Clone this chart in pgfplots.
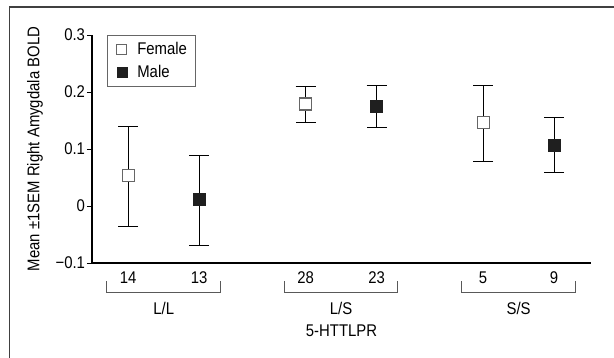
\documentclass[border=0pt]{standalone}
\usepackage{pgfplots}
\pgfplotsset{compat=1.18}
\usepackage{fontspec}
\setmainfont{Liberation Sans}[FakeStretch=0.88]
\newcommand\ff{\fontsize{17}{19}\selectfont}
\begin{document}
\begin{tikzpicture}
\useasboundingbox (0,0) rectangle (614bp,358bp);
\draw[line width=1.2bp, black!75] (9.5bp,-2bp) -- (9.5bp,351bp) -- (616bp,351bp);
\begin{axis}[
  at={(92bp,95bp)}, anchor=south west, scale only axis,
  width=499bp, height=228bp,
  xmin=0.49, xmax=7.52, ymin=-0.1, ymax=0.3,
  axis lines*=left, clip=false,
  axis line style={line width=1.1bp, black},
  xtick={1,2,3.5,4.5,6,7}, xticklabels={14,13,28,23,5,9},
  x tick style={draw=none},
  ytick={-0.1,0,0.1,0.2,0.3}, yticklabels={−0.1,0,0.1,0.2,0.3},
  y tick style={black, line width=0.9bp},
  tick align=outside, major tick length=5bp,
  tick label style={font=\ff},
  yticklabel style={xshift=1.5bp},
  xticklabel style={yshift=0bp},
  ylabel={Mean ±1SEM Right Amygdala BOLD},
  y label style={font=\ff, at={(axis description cs:-0.114,0.5)}, anchor=center},
  legend style={at={(rel axis cs:0.03,1)}, anchor=north west, draw=gray!80!black, font=\ff, line width=0.9bp,
    inner xsep=5bp, inner ysep=4bp, row sep=3.5bp, nodes={inner xsep=3bp, inner ysep=3bp}},
  legend image code/.code={\path (0bp,0bp) (21bp,0bp); \draw[#1, mark size=5bp] plot coordinates {(9bp,0bp)};},
  legend cell align=left,
  error bars/error bar style={black, line width=0.9bp},
  error bars/error mark options={black, line width=0.9bp, mark size=10bp, rotate=90},
]
\addplot[only marks, mark=square*, mark size=6bp, mark options={fill=white, draw=gray!80!black, line width=1.2bp},
  error bars/.cd, y dir=both, y explicit]
  table[x=x, y=y, y error plus=ep, y error minus=em] {
x y ep em
1 0.053 0.086 0.088
3.5 0.179 0.030 0.032
6 0.147 0.065 0.068
};
\addplot[only marks, mark=square*, mark size=6bp, mark options={fill=black!88, draw=black!88, line width=0.5bp},
  error bars/.cd, y dir=both, y explicit]
  table[x=x, y=y, y error plus=ep, y error minus=em] {
x y ep em
2 0.011 0.078 0.081
4.5 0.175 0.036 0.037
7 0.107 0.048 0.048
};
\legend{Female, Male}
\draw[gray!70!black, line width=0.9bp] ([yshift=-18bp]axis cs:0.7,-0.1) -- ([yshift=-29bp]axis cs:0.7,-0.1) -- ([yshift=-29bp]axis cs:2.3,-0.1) -- ([yshift=-18bp]axis cs:2.3,-0.1);
\draw[gray!70!black, line width=0.9bp] ([yshift=-18bp]axis cs:3.2,-0.1) -- ([yshift=-29bp]axis cs:3.2,-0.1) -- ([yshift=-29bp]axis cs:4.8,-0.1) -- ([yshift=-18bp]axis cs:4.8,-0.1);
\draw[gray!70!black, line width=0.9bp] ([yshift=-18bp]axis cs:5.7,-0.1) -- ([yshift=-29bp]axis cs:5.7,-0.1) -- ([yshift=-29bp]axis cs:7.3,-0.1) -- ([yshift=-18bp]axis cs:7.3,-0.1);
\node[font=\ff] at ([yshift=-45bp]axis cs:1.5,-0.1) {L/L};
\node[font=\ff] at ([yshift=-45bp]axis cs:4,-0.1) {L/S};
\node[font=\ff] at ([yshift=-45bp]axis cs:6.5,-0.1) {S/S};
\node[font=\ff] at ([yshift=-68bp]rel axis cs:0.5,0) {5-HTTLPR};
\end{axis}
\end{tikzpicture}
\end{document}
